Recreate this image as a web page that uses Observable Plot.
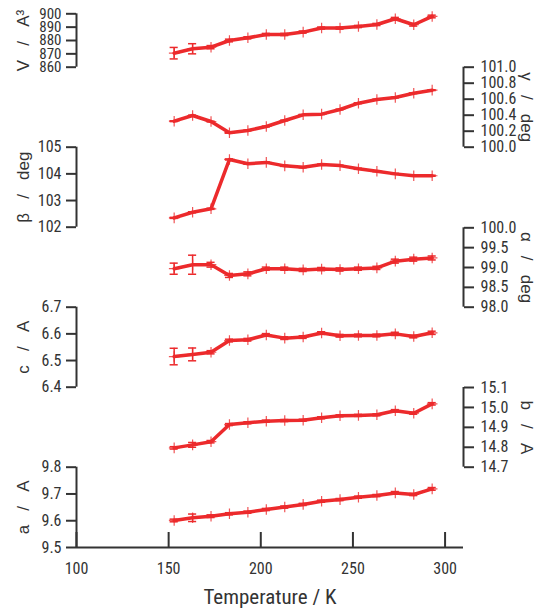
<!DOCTYPE html>
<html><head><meta charset="utf-8">
<script src="https://cdn.jsdelivr.net/npm/d3@7"></script>
<script src="https://cdn.jsdelivr.net/npm/@observablehq/plot@0.6"></script>
<style>
body{margin:0;background:#fff;}
#chart{position:relative;width:543px;height:612px;overflow:hidden;}
#chart svg{position:absolute;left:0;top:0;font-stretch:75%;}
</style></head><body><div id="chart"></div>
<script>
// ---- data ----
const temperature = [153,163,173,183,193,203,213,223,233,243,253,263,273,283,293];
const volume    = [870.5,873.8,875.0,880.0,882.0,884.5,884.5,886.3,889.3,889.3,890.5,892.0,896.3,891.8,898.0];
const volumeErr = [4.3,3.8,1.2,1.0,0.8,0.8,0.8,0.8,0.8,0.8,0.8,0.8,1.0,1.0,1.0];
const gammaDeg  = [100.325,100.396,100.321,100.180,100.209,100.259,100.334,100.405,100.413,100.471,100.550,100.596,100.621,100.675,100.713];
const gammaErr  = [0.005,0.005,0.005,0.005,0.005,0.005,0.005,0.005,0.005,0.005,0.005,0.005,0.005,0.005,0.005];
const betaDeg   = [102.35,102.56,102.69,104.54,104.38,104.43,104.30,104.25,104.35,104.31,104.19,104.10,104.00,103.93,103.93];
const betaErr   = [0.02,0.02,0.02,0.02,0.02,0.02,0.02,0.02,0.02,0.02,0.02,0.02,0.02,0.02,0.02];
const alphaDeg  = [98.97,99.07,99.07,98.80,98.84,98.97,98.97,98.94,98.96,98.95,98.97,98.99,99.16,99.21,99.24];
const alphaErr  = [0.14,0.24,0.06,0.05,0.05,0.04,0.04,0.04,0.04,0.04,0.04,0.04,0.05,0.05,0.05];
const cLen      = [6.515,6.523,6.531,6.575,6.578,6.596,6.584,6.588,6.603,6.593,6.594,6.594,6.600,6.590,6.604];
const cErr      = [0.031,0.024,0.006,0.005,0.005,0.005,0.005,0.005,0.005,0.005,0.005,0.005,0.006,0.005,0.006];
const bLen      = [14.797,14.812,14.828,14.914,14.923,14.931,14.934,14.936,14.948,14.958,14.960,14.963,14.983,14.971,15.018];
const bErr      = [0.006,0.012,0.006,0.005,0.005,0.005,0.005,0.005,0.005,0.005,0.005,0.005,0.006,0.005,0.006];
const aLen      = [9.601,9.611,9.617,9.626,9.632,9.642,9.651,9.661,9.673,9.679,9.688,9.694,9.704,9.698,9.719];
const aErr      = [0.005,0.014,0.005,0.004,0.004,0.004,0.004,0.004,0.004,0.004,0.004,0.004,0.005,0.004,0.005];

const xDomain = [100, 310];
const xTicks = [100,150,200,250,300];
const xLabel = "Temperature / K";

const vTicks = [860,870,880,890,900];
const gammaTicks = [100.0,100.2,100.4,100.6,100.8,101.0];
const betaTicks = [102,103,104,105];
const alphaTicks = [98.0,98.5,99.0,99.5,100.0];
const cTicks = [6.4,6.5,6.6,6.7];
const bTicks = [14.7,14.8,14.9,15.0,15.1];
const aTicks = [9.5,9.6,9.7,9.8];

const SP = "\u00a0\u00a0\u00a0";
const labels = {
  V: "V" + SP + "/" + SP + "A\u00b3",
  gamma: "\u03b3" + SP + "/" + SP + "deg",
  beta: "\u03b2" + SP + "/" + SP + "deg",
  alpha: "\u03b1" + SP + "/" + SP + "deg",
  c: "c" + SP + "/" + SP + "A",
  b: "b" + SP + "/" + SP + "A",
  a: "a" + SP + "/" + SP + "A"
};

// ---- styling ----
const W = 543, H = 612;
const RED = "#ec2a2c";
const AX = "#333333";
const TICKFONT = "'Roboto Condensed','Noto Sans',sans-serif";
const LABELFONT = "'Liberation Sans',Arial,sans-serif";
const CAP = 2.2; // half cap width in K

function panel(opts) {
  const {values, errors, domain, ticks, fmt, side, top, bottom, label, xAxis, tickFont = 16} = opts;
  const data = temperature.map((t, i) => ({t, v: values[i], e: errors[i]}));
  const edge = side === "left" ? xDomain[0] : xDomain[1];
  const marks = [
    Plot.ruleX([edge], {y1: domain[0], y2: domain[1], stroke: AX, strokeWidth: 2}),
    Plot.axisY(ticks, {anchor: side, tickSize: 10, tickPadding: side === "left" ? 5 : 7,
      tickFormat: fmt, stroke: AX, strokeWidth: 2, fill: AX, fontSize: tickFont, label: null}),
    Plot.ruleX(data, {x: "t", y1: d => d.v - d.e, y2: d => d.v + d.e, stroke: RED, strokeWidth: 1.5}),
    Plot.ruleY(data, {y: d => d.v - d.e, x1: d => d.t - CAP, x2: d => d.t + CAP, stroke: RED, strokeWidth: 1.5}),
    Plot.ruleY(data, {y: d => d.v + d.e, x1: d => d.t - CAP, x2: d => d.t + CAP, stroke: RED, strokeWidth: 1.5}),
    Plot.line(data, {x: "t", y: "v", stroke: RED, strokeWidth: 3.5}),
    Plot.dot(data, {x: "t", y: "v", symbol: "plus", r: 3.5, stroke: RED, strokeWidth: 1.2, strokeOpacity: 0.8}),
    Plot.text([label], {frameAnchor: side, textAnchor: "middle", rotate: side === "left" ? -90 : 90,
      dx: side === "left" ? -53 : 63, fontSize: 17, fontFamily: LABELFONT, fill: AX})
  ];
  if (xAxis) {
    marks.push(
      Plot.ruleY([domain[0]], {stroke: AX, strokeWidth: 2}),
      Plot.tickX(xTicks, {x: d => d, stroke: AX, strokeWidth: 2, insetTop: (bottom - top) - 15}),
      Plot.axisX(xTicks, {anchor: "bottom", tickSize: 0, tickPadding: 15, fill: AX, fontSize: 16, label: null}),
      Plot.text([xLabel], {frameAnchor: "bottom", textAnchor: "middle", dy: 56, fontSize: 21, fill: AX})
    );
  }
  const svg = Plot.plot({
    width: W, height: H,
    marginTop: top, marginBottom: H - bottom, marginLeft: 76, marginRight: W - 463,
    x: {domain: xDomain, axis: null},
    y: {domain, axis: null},
    style: {background: "transparent", fontFamily: TICKFONT, fontSize: "16px", color: AX, overflow: "visible"},
    marks
  });
  document.getElementById("chart").appendChild(svg);
}

const f1 = d3.format(".1f");
panel({values: volume, errors: volumeErr, domain: [860, 900], ticks: vTicks, fmt: d3.format("d"), side: "left", top: 13.3, bottom: 66.7, label: labels.V, tickFont: 15});
panel({values: gammaDeg, errors: gammaErr, domain: [100, 101], ticks: gammaTicks, fmt: f1, side: "right", top: 66.7, bottom: 146.7, label: labels.gamma});
panel({values: betaDeg, errors: betaErr, domain: [102, 105], ticks: betaTicks, fmt: d3.format("d"), side: "left", top: 146.7, bottom: 226.7, label: labels.beta});
panel({values: alphaDeg, errors: alphaErr, domain: [98, 100], ticks: alphaTicks, fmt: f1, side: "right", top: 227.3, bottom: 306.7, label: labels.alpha});
panel({values: cLen, errors: cErr, domain: [6.4, 6.7], ticks: cTicks, fmt: f1, side: "left", top: 306.7, bottom: 386.7, label: labels.c});
panel({values: bLen, errors: bErr, domain: [14.7, 15.1], ticks: bTicks, fmt: f1, side: "right", top: 387, bottom: 466.7, label: labels.b});
panel({values: aLen, errors: aErr, domain: [9.5, 9.8], ticks: aTicks, fmt: f1, side: "left", top: 466.7, bottom: 547, label: labels.a, xAxis: true});
</script>
</body></html>
